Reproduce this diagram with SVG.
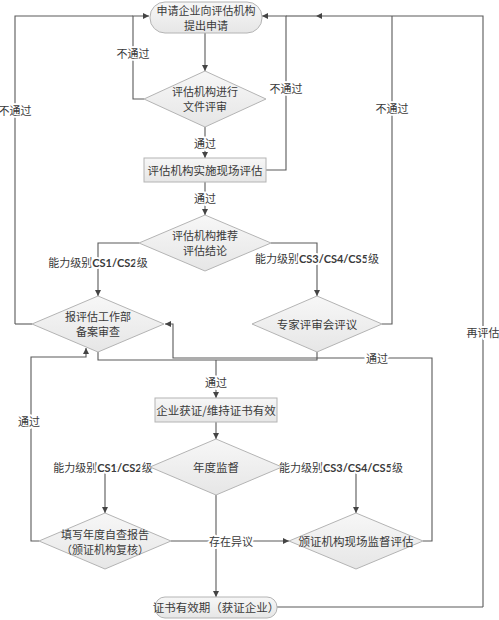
<svg xmlns="http://www.w3.org/2000/svg" width="499" height="620" viewBox="0 0 499 620">
<defs>
<linearGradient id="g" x1="0" y1="0" x2="0" y2="1">
<stop offset="0" stop-color="#f7f7f7"/><stop offset="1" stop-color="#e6e6e6"/>
</linearGradient>
<marker id="a" viewBox="0 0 6 6" refX="6" refY="3" markerWidth="6" markerHeight="6" markerUnits="userSpaceOnUse" orient="auto">
<path d="M0,0 L6,3 L0,6 z" fill="#444"/>
</marker>
<style>
text{font-family:"Noto Sans CJK SC","Noto Sans",sans-serif;font-size:11.5px;fill:#3a3a3a;text-anchor:middle;dominant-baseline:central}
.n{fill:url(#g);stroke:#b4b4b4;stroke-width:1}
.c path{fill:none;stroke:#5a5a5a;stroke-width:1.1}
.l{font-size:11px;stroke:#fff;stroke-width:4;paint-order:stroke;stroke-linejoin:round}
.b{font-family:Lato,"Liberation Sans",sans-serif;font-weight:bold}
.s{font-size:11px}
</style>
</defs>
<rect width="499" height="620" fill="#fff"/>
<g class="c">
<path d="M205,33 V71" marker-end="url(#a)"/>
<path d="M144,99 H133 V16 H149" marker-end="url(#a)"/>
<path d="M15,324 V16 H133"/>
<path d="M32,324 H15"/>
<path d="M205,127 V158" marker-end="url(#a)"/>
<path d="M266,170 H286 V16 H262" marker-end="url(#a)"/>
<path d="M483,607 V16 H316" marker-end="url(#a)"/>
<path d="M316,16 H286"/>
<path d="M277,607 H483"/>
<path d="M382,324 H392 V16"/>
<path d="M205,182 V215" marker-end="url(#a)"/>
<path d="M139,243 H98 V296" marker-end="url(#a)"/>
<path d="M271,243 H317 V296" marker-end="url(#a)"/>
<path d="M98,352 V360 H317 V352"/>
<path d="M216,360 V398" marker-end="url(#a)"/>
<path d="M423,541 H432 V358 H173 V324 H165" marker-end="url(#a)"/>
<path d="M39,541 H31 V357 H86 V348" marker-end="url(#a)"/>
<path d="M216,422 V439" marker-end="url(#a)"/>
<path d="M150,467 H105 V513" marker-end="url(#a)"/>
<path d="M282,467 H356 V513" marker-end="url(#a)"/>
<path d="M171,541 H289" marker-end="url(#a)"/>
<path d="M216,495 V597" marker-end="url(#a)"/>
</g>
<g id="labels">
<text class="l" x="133" y="53">不通过</text>
<text class="l" x="205" y="143">通过</text>
<text class="l" x="286" y="88">不通过</text>
<text class="l" x="205" y="198">通过</text>
<text class="l" x="15" y="110">不通过</text>
<text class="l" x="392" y="108">不通过</text>
<text class="l" x="483" y="332">再评估</text>
<text class="l" x="98" y="262">能力级别<tspan class="b">CS1/CS2</tspan>级</text>
<text class="l" x="317" y="258">能力级别<tspan class="b">CS3/CS4/CS5</tspan>级</text>
<text class="l" x="377" y="358">通过</text>
<text class="l" x="216" y="382">通过</text>
<text class="l" x="29" y="421">通过</text>
<text class="l" x="103" y="467">能力级别<tspan class="b">CS1/CS2</tspan>级</text>
<text class="l" x="341" y="467">能力级别<tspan class="b">CS3/CS4/CS5</tspan>级</text>
<text class="l" x="231" y="541">存在异议</text>
</g>
<g id="start">
<rect class="n" x="150" y="2" width="112" height="31" rx="15"/>
<text class="s" x="206" y="10">申请企业向评估机构</text>
<text class="s" x="206" y="25">提出申请</text>
</g>
<g id="doc-review">
<polygon class="n" points="205,71 266,99 205,127 144,99"/>
<text class="s" x="205" y="91">评估机构进行</text>
<text class="s" x="205" y="106">文件评审</text>
</g>
<g id="site-eval">
<rect class="n" x="144" y="158" width="122" height="24"/>
<text x="205" y="170">评估机构实施现场评估</text>
</g>
<g id="recommend">
<polygon class="n" points="205,215 271,243 205,271 139,243"/>
<text class="s" x="205" y="235">评估机构推荐</text>
<text class="s" x="205" y="250">评估结论</text>
</g>
<g id="filing">
<polygon class="n" points="98,296 164,324 98,352 32,324"/>
<text class="s" x="98" y="316">报评估工作部</text>
<text class="s" x="98" y="331">备案审查</text>
</g>
<g id="expert">
<polygon class="n" points="317,296 382,324 317,352 252,324"/>
<text x="317" y="324">专家评审会评议</text>
</g>
<g id="certified">
<rect class="n" x="155" y="398" width="122" height="24"/>
<text x="216" y="410">企业获证/维持证书有效</text>
</g>
<g id="annual">
<polygon class="n" points="216,439 282,467 216,495 150,467"/>
<text x="216" y="467">年度监督</text>
</g>
<g id="self-check">
<polygon class="n" points="105,513 171,541 105,569 39,541"/>
<text class="s" x="105" y="534">填写年度自查报告</text>
<text class="s" x="105" y="549">（颁证机构复核）</text>
</g>
<g id="supervision">
<polygon class="n" points="356,513 423,541 356,569 289,541"/>
<text x="356" y="541">颁证机构现场监督评估</text>
</g>
<g id="valid">
<rect class="n" x="155" y="597" width="122" height="21" rx="10"/>
<text x="216" y="607">证书有效期（获证企业）</text>
</g>
</svg>
